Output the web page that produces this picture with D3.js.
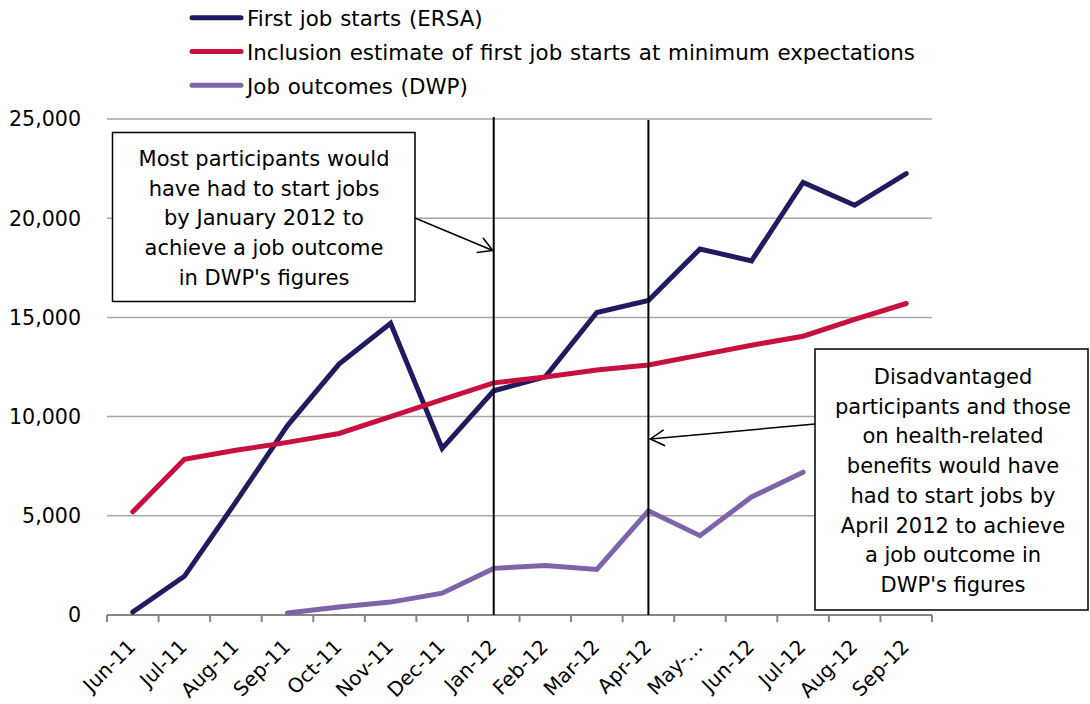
<!DOCTYPE html>
<html>
<head>
<meta charset="utf-8">
<script src="https://cdn.jsdelivr.net/npm/d3@7"></script>
<style>
  body { margin: 0; background: #fff; }
  svg { display: block; }
  text { font-family: "DejaVu Sans", Verdana, sans-serif; fill: #000; }
</style>
</head>
<body>
<svg></svg>
<script>
var svgWidth = 1090, svgHeight = 704;

// data
var months = ["Jun-11", "Jul-11", "Aug-11", "Sep-11", "Oct-11", "Nov-11", "Dec-11", "Jan-12",
              "Feb-12", "Mar-12", "Apr-12", "May-12", "Jun-12", "Jul-12", "Aug-12", "Sep-12"];
var tickLabels = ["Jun-11", "Jul-11", "Aug-11", "Sep-11", "Oct-11", "Nov-11", "Dec-11", "Jan-12",
                  "Feb-12", "Mar-12", "Apr-12", "May-\u2026", "Jun-12", "Jul-12", "Aug-12", "Sep-12"];
var ersaStarts = [150, 1950, 5700, 9550, 12650, 14700, 8400, 11300, 12000, 15250, 15850, 18450, 17850, 21800, 20650, 22250];
var inclusionEstimate = [5200, 7850, 8300, 8700, 9150, 10000, 10850, 11700, 12000, 12350, 12600, 13100, 13600, 14050, 14900, 15700];
var dwpOutcomes = [null, null, null, 100, 400, 650, 1100, 2350, 2500, 2300, 5250, 4000, 5950, 7200, null, null];
var yTicks = [0, 5000, 10000, 15000, 20000, 25000];

var seriesNames = ["First job starts (ERSA)",
                   "Inclusion estimate of first job starts at minimum expectations",
                   "Job outcomes (DWP)"];
var seriesColors = ["#201b5f", "#c8103f", "#7e63a8"];

var series = [ersaStarts, inclusionEstimate, dwpOutcomes];

var note1 = ["Most participants would", "have had to start jobs", "by January 2012 to",
             "achieve a job outcome", "in DWP's figures"];
var note2 = ["Disadvantaged", "participants and those", "on health-related", "benefits would have",
             "had to start jobs by", "April 2012 to achieve", "a job outcome in", "DWP's figures"];

var svg = d3.select("svg")
            .attr("width", svgWidth)
            .attr("height", svgHeight);

var x = d3.scaleBand().domain(months).range([107, 932]).padding(0);
var y = d3.scaleLinear().domain([0, 25000]).range([615, 119]);

function cx(m) { return x(m) + x.bandwidth() / 2; }

// gridlines
svg.append("g")
   .selectAll("line")
   .data(yTicks.filter(function(d) { return d > 0; }))
   .enter().append("line")
      .attr("x1", x.range()[0])
      .attr("x2", x.range()[1])
      .attr("y1", function(d) { return y(d); })
      .attr("y2", function(d) { return y(d); })
      .style("stroke", "#a6a6a6")
      .style("stroke-width", 1.5);

// y labels
svg.append("g")
   .selectAll("text")
   .data(yTicks)
   .enter().append("text")
      .attr("x", 81)
      .attr("y", function(d) { return y(d); })
      .attr("dy", "0.36em")
      .attr("text-anchor", "end")
      .style("font-size", "20.6px")
      .text(function(d) { return d3.format(",")(d); });

// x axis line and ticks at band edges
var xAxis = svg.append("g");
xAxis.append("line")
     .attr("x1", x.range()[0]).attr("x2", x.range()[1])
     .attr("y1", y(0)).attr("y2", y(0))
     .style("stroke", "#868686").style("stroke-width", 2);
xAxis.selectAll(".tick")
     .data(months.map(function(m) { return x(m); }).concat([x.range()[1]]))
     .enter().append("line")
        .attr("class", "tick")
        .attr("x1", function(d) { return d; }).attr("x2", function(d) { return d; })
        .attr("y1", y(0)).attr("y2", y(0) + 7)
        .style("stroke", "#868686").style("stroke-width", 2);
xAxis.selectAll("text")
     .data(months)
     .enter().append("text")
        .attr("transform", function(d) { return "translate(" + (cx(d) + 4) + "," + (y(0) + 33) + ") rotate(-45)"; })
        .attr("text-anchor", "end")
        .style("font-size", "20px")
        .text(function(d, i) { return tickLabels[i]; });

// series lines
var line = d3.line()
    .defined(function(d) { return d != null; })
    .x(function(d, i) { return cx(months[i]); })
    .y(function(d) { return y(d); });

svg.append("g")
   .selectAll("path")
   .data(series)
   .enter().append("path")
      .attr("d", line)
      .style("fill", "none")
      .style("stroke", function(d, i) { return seriesColors[i]; })
      .style("stroke-width", 5)
      .style("stroke-linejoin", "miter")
      .style("stroke-linecap", "round");

// legend
var legend = svg.append("g")
    .selectAll("g")
    .data(seriesNames)
    .enter().append("g")
       .attr("transform", function(d, i) { return "translate(192," + (17.7 + i * 33.8) + ")"; });
legend.append("line")
    .attr("x1", 0).attr("x2", 49)
    .style("stroke", function(d, i) { return seriesColors[i]; })
    .style("stroke-width", 5)
    .style("stroke-linecap", "round");
legend.append("text")
    .attr("x", 55)
    .attr("y", 8.5)
    .style("font-size", "21.4px")
    .style("word-spacing", "1px")
    .text(function(d) { return d; });

// marker for annotation arrows
svg.append("defs").append("marker")
   .attr("id", "arrow")
   .attr("markerUnits", "userSpaceOnUse")
   .attr("viewBox", "0 0 16 20")
   .attr("markerWidth", 16).attr("markerHeight", 20)
   .attr("refX", 15).attr("refY", 10)
   .attr("orient", "auto")
   .append("path")
      .attr("d", "M1,2 L15,10 L1,18")
      .style("fill", "none")
      .style("stroke", "#000")
      .style("stroke-width", 1.5);

// vertical markers at Jan-12 and Apr-12
svg.append("line")
   .attr("x1", cx("Jan-12")).attr("x2", cx("Jan-12"))
   .attr("y1", 117).attr("y2", y(0))
   .style("stroke", "#000").style("stroke-width", 2);
svg.append("line")
   .attr("x1", cx("Apr-12")).attr("x2", cx("Apr-12"))
   .attr("y1", 120).attr("y2", y(0))
   .style("stroke", "#000").style("stroke-width", 2);

// annotation boxes
function noteBox(left, top, width, height, lines, firstBase, midX) {
    var g = svg.append("g");
    g.append("rect")
     .attr("x", left).attr("y", top)
     .attr("width", width).attr("height", height)
     .style("fill", "#fff")
     .style("stroke", "#000")
     .style("stroke-width", 1.5);
    g.selectAll("text")
     .data(lines)
     .enter().append("text")
        .attr("x", midX)
        .attr("y", function(d, i) { return firstBase + i * 29.7; })
        .attr("text-anchor", "middle")
        .style("font-size", "21px")
        .text(function(d) { return d; });
}

noteBox(112.5, 132.5, 302.5, 169, note1, 166, 264);
noteBox(815, 349, 273, 261, note2, 384, 953);

svg.append("line")
   .attr("x1", 415).attr("y1", 218)
   .attr("x2", cx("Jan-12") - 1).attr("y2", 250.5)
   .attr("marker-end", "url(#arrow)")
   .style("stroke", "#000").style("stroke-width", 1.5);
svg.append("line")
   .attr("x1", 815).attr("y1", 424)
   .attr("x2", cx("Apr-12") + 2).attr("y2", 439)
   .attr("marker-end", "url(#arrow)")
   .style("stroke", "#000").style("stroke-width", 1.5);
</script>
</body>
</html>
